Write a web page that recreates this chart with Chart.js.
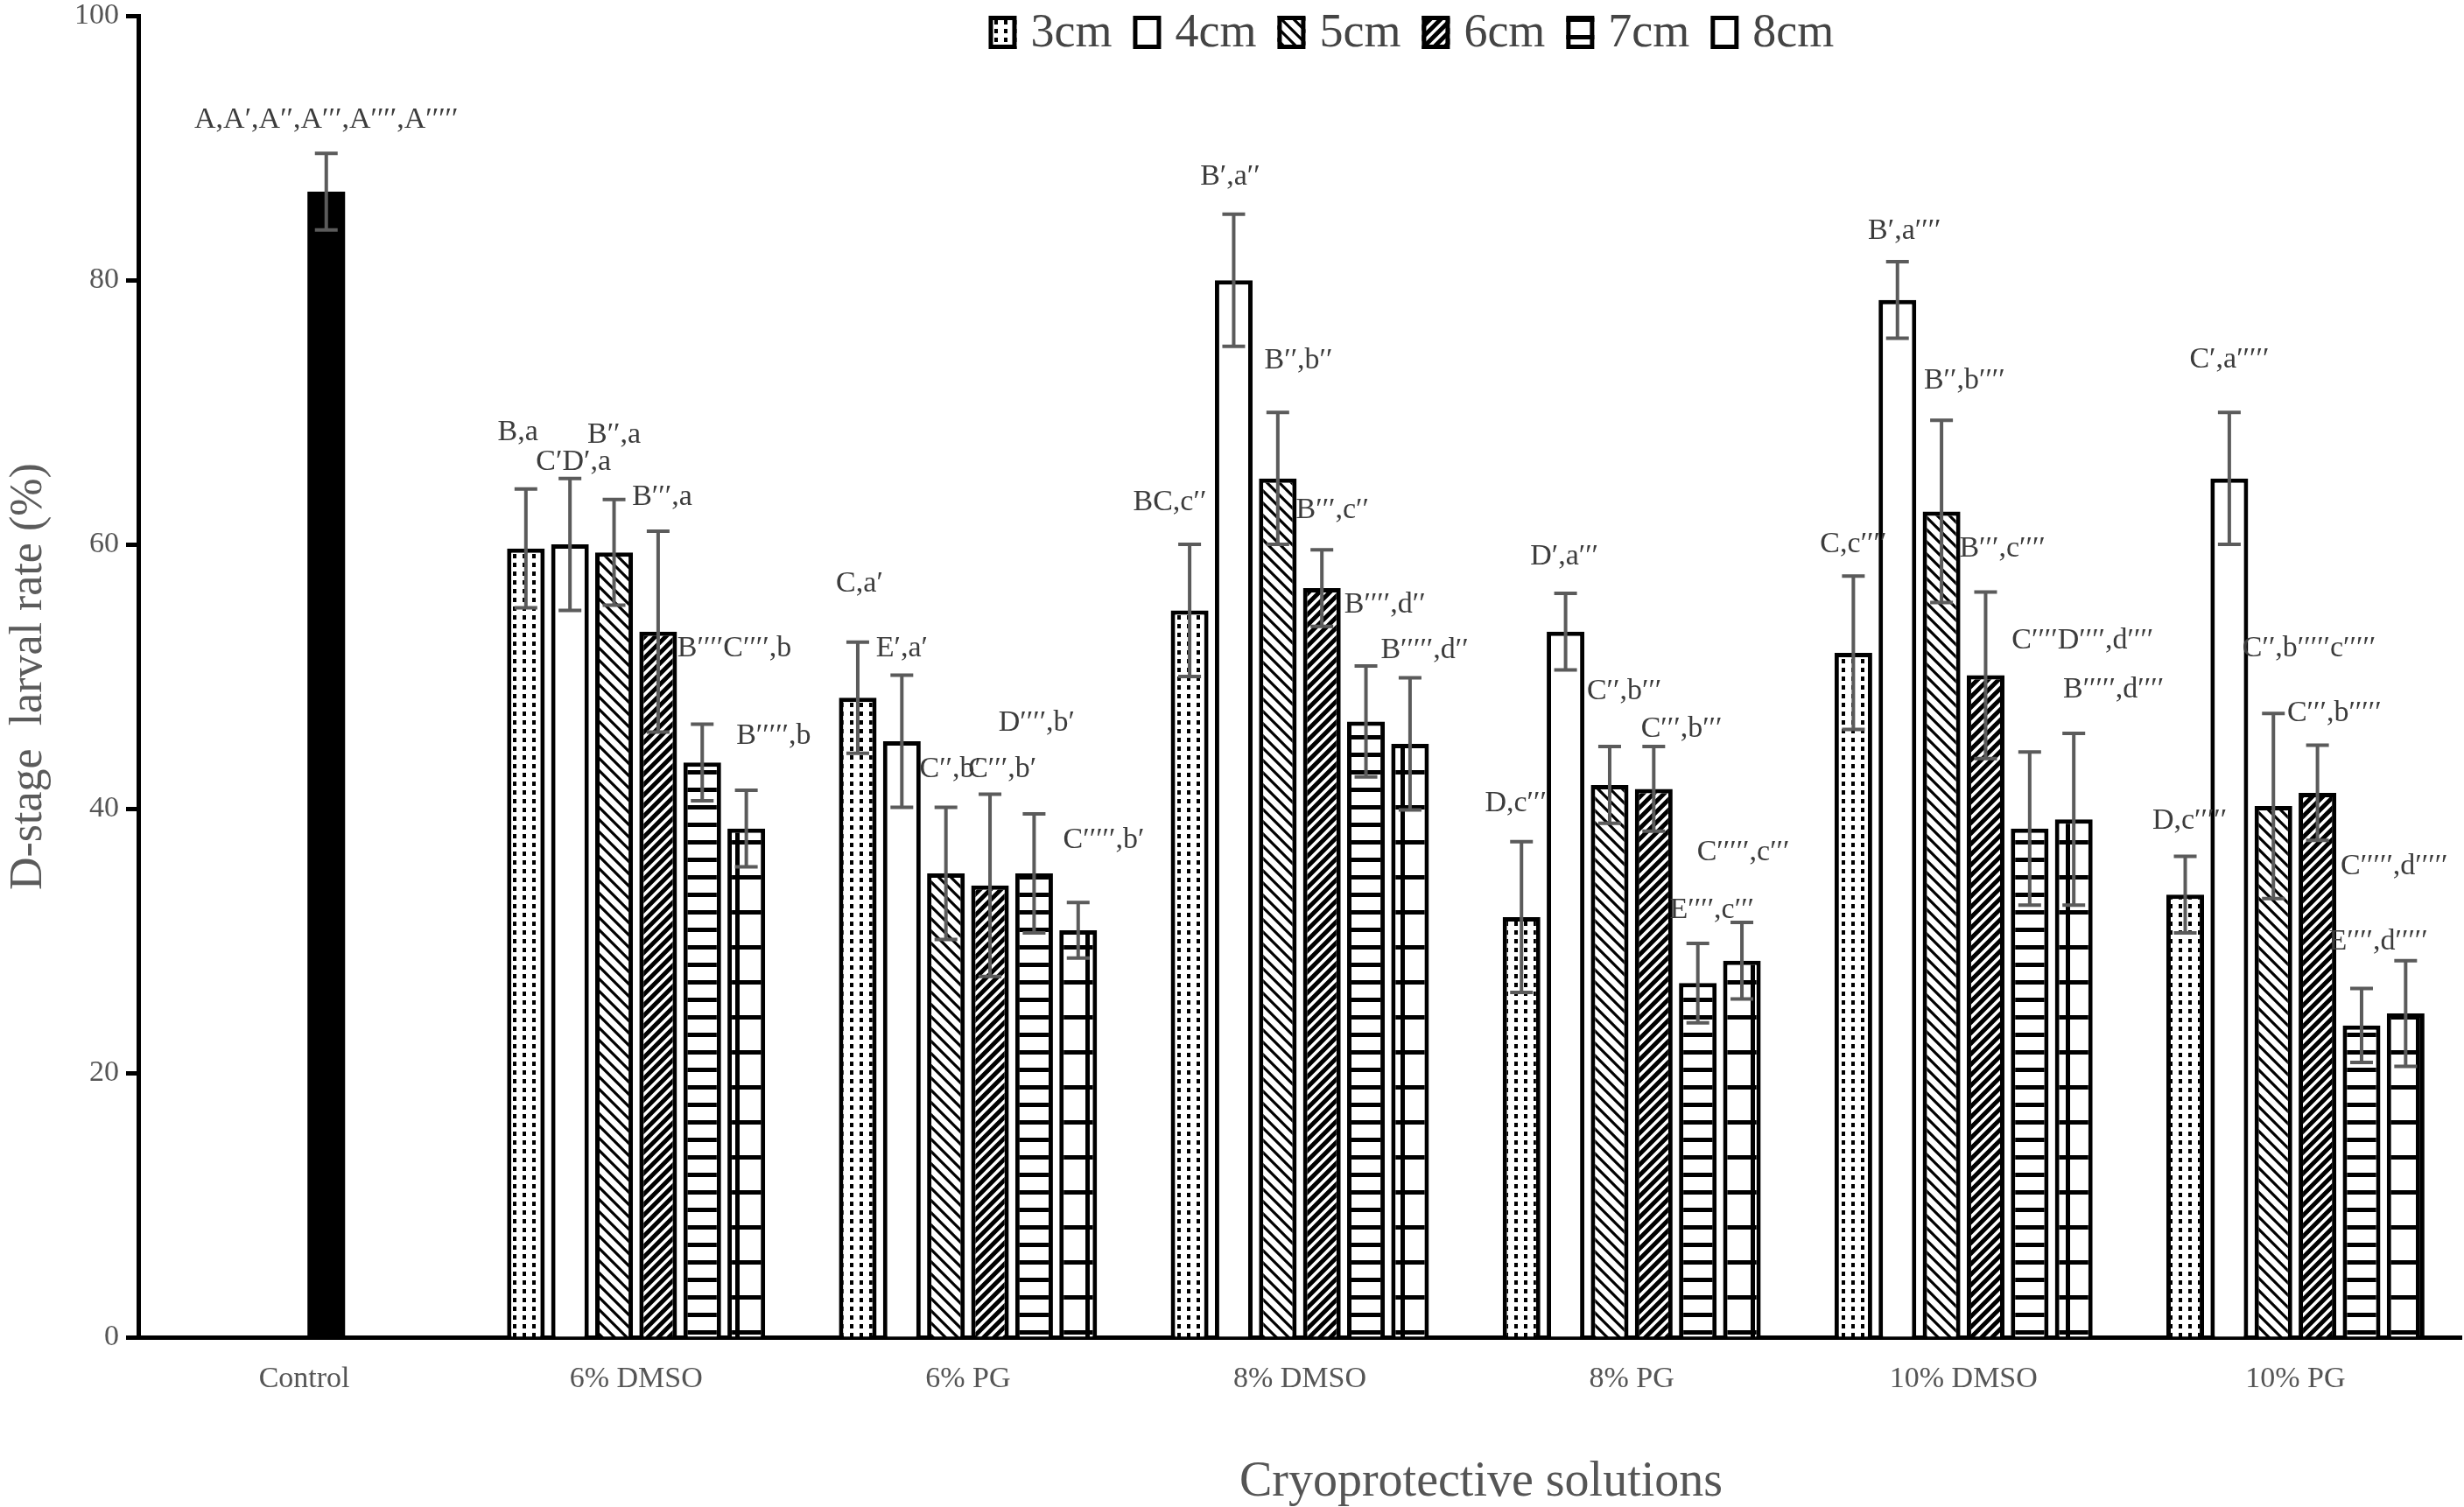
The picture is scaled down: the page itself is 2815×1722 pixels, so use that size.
<!DOCTYPE html>
<html>
<head>
<meta charset="utf-8">
<script src="https://cdn.jsdelivr.net/npm/chart.js@4.4.1/dist/chart.umd.min.js"></script>
<style>
  html, body { margin: 0; padding: 0; background: #fff; overflow: hidden; }
  canvas { display: block; }
</style>
</head>
<body>
<canvas id="chart" width="2815" height="1722"></canvas>
<script>
// categories and series
const categories = ['Control', '6% DMSO', '6% PG', '8% DMSO', '8% PG', '10% DMSO', '10% PG'];
const seriesNames = ['3cm', '4cm', '5cm', '6cm', '7cm', '8cm'];

// control (only one bar)
const controlValue = [86.7, null, null, null, null, null, null];
const controlError = [2.9, null, null, null, null, null, null];
const controlLetters = ['A,A′,A′′,A′′′,A′′′′,A′′′′′', '', '', '', '', '', ''];
const controlLabelY = [92.1, null, null, null, null, null, null];
const controlLabelDx = [0, 0, 0, 0, 0, 0, 0];

// mean values (%)
const cm3 = [null, 59.7, 48.4, 55.0, 31.8, 51.8, 33.5];
const cm4 = [null, 60.0, 45.1, 80.0, 53.4, 78.5, 65.0];
const cm5 = [null, 59.4, 35.1, 65.0, 41.8, 62.5, 40.2];
const cm6 = [null, 53.4, 34.2, 56.7, 41.5, 50.1, 41.2];
const cm7 = [null, 43.5, 35.1, 46.6, 26.8, 38.5, 23.6];
const cm8 = [null, 38.5, 30.8, 44.9, 28.5, 39.2, 24.5];

// error bars (+/-)
const err3 = [null, 4.5, 4.2, 5.0, 5.7, 5.8, 2.9];
const err4 = [null, 5.0, 5.0, 5.0, 2.9, 2.9, 5.0];
const err5 = [null, 4.0, 5.0, 5.0, 2.9, 6.9, 7.0];
const err6 = [null, 7.6, 6.9, 2.9, 3.2, 6.3, 3.6];
const err7 = [null, 2.9, 4.5, 4.2, 3.0, 5.8, 2.8];
const err8 = [null, 2.9, 2.1, 5.0, 2.9, 6.5, 4.0];

// significance letters
const let3 = ['', 'B,a', 'C,a′', 'BC,c′′', 'D,c′′′', 'C,c′′′′', 'D,c′′′′′'];
const let4 = ['', 'C′D′,a', 'E′,a′', 'B′,a′′', 'D′,a′′′', 'B′,a′′′′', 'C′,a′′′′′'];
const let5 = ['', 'B′′,a', 'C′′,b′', 'B′′,b′′', 'C′′,b′′′', 'B′′,b′′′′', 'C′′,b′′′′′c′′′′′'];
const let6 = ['', 'B′′′,a', 'C′′′,b′', 'B′′′,c′′', 'C′′′,b′′′', 'B′′′,c′′′′', 'C′′′,b′′′′′'];
const let7 = ['', 'B′′′′C′′′′,b', 'D′′′′,b′', 'B′′′′,d′′', 'E′′′′,c′′′', 'C′′′′D′′′′,d′′′′', 'E′′′′,d′′′′′'];
const let8 = ['', 'B′′′′′,b', 'C′′′′′,b′', 'B′′′′′,d′′', 'C′′′′′,c′′′', 'B′′′′′,d′′′′', 'C′′′′′,d′′′′′'];

// where each letter group sits (y in % units, x shift in bar slots)
const lab3Y = [null, 68.5, 57.0, 63.2, 40.4, 60.0, 39.1];
const lab4Y = [null, 66.2, 52.1, 87.8, 59.1, 83.7, 74.0];
const lab5Y = [null, 68.3, 43.0, 73.9, 48.9, 72.4, 52.1];
const lab6Y = [null, 63.6, 43.0, 62.6, 46.0, 59.7, 47.2];
const lab7Y = [null, 52.1, 46.5, 55.4, 32.3, 52.7, 29.9];
const lab8Y = [null, 45.5, 37.6, 52.0, 36.7, 49.0, 35.6];
const lab3Dx = [0, -0.18, 0.04, -0.45, -0.13, 0.0, 0.1];
const lab4Dx = [0, 0.08, 0.0, -0.08, -0.03, 0.16, 0.0];
const lab5Dx = [0, 0.0, 0.1, 0.47, 0.33, 0.52, 0.81];
const lab6Dx = [0, 0.09, 0.28, 0.24, 0.63, 0.38, 0.38];
const lab7Dx = [0, 0.73, 0.06, 0.43, 0.32, 1.2, 0.38];
const lab8Dx = [0, 0.62, 0.58, 0.33, 0.03, 0.9, -0.26];

const FONT = '"Liberation Serif", "Times New Roman", serif';
const CONTROL_SHIFT = 0.5; // control bar sits half a slot right of its tick

// hatch patterns
function makePattern(w, h, draw) {
  const c = document.createElement('canvas');
  c.width = w; c.height = h;
  const g = c.getContext('2d');
  g.fillStyle = '#fff';
  g.fillRect(0, 0, w, h);
  g.fillStyle = '#000';
  g.strokeStyle = '#000';
  draw(g);
  return document.getElementById('chart').getContext('2d').createPattern(c, 'repeat');
}

const patterns = [
  makePattern(11, 10, g => { g.fillRect(3, 3, 4, 5); }),
  '#fff',
  makePattern(14, 14, g => {
    g.lineWidth = 3.2;
    g.beginPath();
    g.moveTo(-3, -3); g.lineTo(17, 17);
    g.moveTo(-17, -3); g.lineTo(3, 17);
    g.moveTo(11, -3); g.lineTo(31, 17);
    g.stroke();
  }),
  makePattern(12, 12, g => {
    g.lineWidth = 5;
    g.beginPath();
    g.moveTo(-3, 15); g.lineTo(15, -3);
    g.moveTo(-15, 15); g.lineTo(3, -3);
    g.moveTo(9, 15); g.lineTo(27, -3);
    g.stroke();
  }),
  makePattern(20, 20, g => { g.fillRect(0, 0, 20, 5); }),
  makePattern(40, 40, g => { g.fillRect(0, 0, 40, 5); g.fillRect(0, 0, 5, 40); })
];
// legend swatches (the 8cm key shows as an empty box in the original)
const legendFills = [patterns[0], '#fff', patterns[2], patterns[3], patterns[4], '#fff'];

const values = [cm3, cm4, cm5, cm6, cm7, cm8];
const errors = [err3, err4, err5, err6, err7, err8];
const letters = [let3, let4, let5, let6, let7, let8];
const labelY = [lab3Y, lab4Y, lab5Y, lab6Y, lab7Y, lab8Y];
const labelDx = [lab3Dx, lab4Dx, lab5Dx, lab6Dx, lab7Dx, lab8Dx];

const allErrors = [controlError].concat(errors);
const allLetters = [controlLetters].concat(letters);
const allLabelY = [controlLabelY].concat(labelY);
const allLabelDx = [controlLabelDx].concat(labelDx);

const datasets = [{
  label: 'Control',
  data: controlValue,
  backgroundColor: '#000',
  borderColor: '#000',
  borderWidth: 0,
  maxBarThickness: 43
}].concat(values.map((v, k) => ({
  label: seriesNames[k],
  data: v,
  backgroundColor: patterns[k],
  borderColor: '#000',
  borderWidth: 5
})));

function slotPitch(chart) {
  return chart.getDatasetMeta(2).data[1].x - chart.getDatasetMeta(1).data[1].x;
}

// error bars, letters, legend and x title
const extras = {
  id: 'extras',
  beforeDatasetDraw(chart, args) {
    if (args.index === 0) {
      chart.ctx.save();
      chart.ctx.translate(slotPitch(chart) * CONTROL_SHIFT, 0);
    }
  },
  afterDatasetDraw(chart, args) {
    if (args.index === 0) chart.ctx.restore();
  },
  afterDatasetsDraw(chart) {
    const ctx = chart.ctx;
    const y = chart.scales.y;
    const pitch = slotPitch(chart);
    ctx.save();
    ctx.strokeStyle = '#5b5b5b';
    ctx.lineWidth = 4;
    chart.data.datasets.forEach((ds, d) => {
      const meta = chart.getDatasetMeta(d);
      const shift = d === 0 ? pitch * CONTROL_SHIFT : 0;
      ds.data.forEach((v, i) => {
        if (v === null) return;
        const x = meta.data[i].x + shift;
        const e = allErrors[d][i];
        const yt = y.getPixelForValue(v + e);
        const yb = y.getPixelForValue(v - e);
        ctx.beginPath();
        ctx.moveTo(x, yt); ctx.lineTo(x, yb);
        ctx.moveTo(x - 13, yt); ctx.lineTo(x + 13, yt);
        ctx.moveTo(x - 13, yb); ctx.lineTo(x + 13, yb);
        ctx.stroke();
      });
    });
    ctx.fillStyle = '#3c3c3c';
    ctx.font = '34px ' + FONT;
    ctx.textAlign = 'center';
    ctx.textBaseline = 'middle';
    chart.data.datasets.forEach((ds, d) => {
      const meta = chart.getDatasetMeta(d);
      const shift = d === 0 ? pitch * CONTROL_SHIFT : 0;
      ds.data.forEach((v, i) => {
        if (v === null || !allLetters[d][i]) return;
        const x = meta.data[i].x + shift + allLabelDx[d][i] * pitch;
        ctx.fillText(allLetters[d][i], x, y.getPixelForValue(allLabelY[d][i]));
      });
    });
    ctx.restore();
  },
  afterDraw(chart) {
    const ctx = chart.ctx;
    const area = chart.chartArea;
    ctx.save();
    // legend
    ctx.font = '54px ' + FONT;
    ctx.textBaseline = 'middle';
    ctx.textAlign = 'left';
    const boxW = 32, boxH = 38, gap = 16, space = 24;
    const widths = seriesNames.map(n => boxW + gap + ctx.measureText(n).width);
    const total = widths.reduce((a, b) => a + b, 0) + space * (seriesNames.length - 1);
    let lx = area.left + area.width * 0.548 - total / 2;
    const ly = 37;
    seriesNames.forEach((n, k) => {
      ctx.fillStyle = legendFills[k];
      ctx.fillRect(lx, ly - boxH / 2, boxW, boxH);
      ctx.strokeStyle = '#000';
      ctx.lineWidth = 5;
      ctx.strokeRect(lx + 2.5, ly - boxH / 2 + 2.5, boxW - 5, boxH - 5);
      ctx.fillStyle = '#444';
      ctx.fillText(n, lx + boxW + gap, ly + 2);
      lx += widths[k] + space;
    });
    // x axis title
    ctx.fillStyle = '#555';
    ctx.font = '56px ' + FONT;
    ctx.textAlign = 'center';
    ctx.fillText('Cryoprotective solutions', area.left + area.width * 0.578, 1694);
    ctx.restore();
  }
};

new Chart(document.getElementById('chart'), {
  type: 'bar',
  data: { labels: categories, datasets: datasets },
  options: {
    responsive: false,
    devicePixelRatio: 1,
    animation: false,
    layout: { padding: { top: 18, right: 3, left: 0, bottom: 0 } },
    datasets: {
      bar: {
        skipNull: true,
        categoryPercentage: 0.797,
        barPercentage: 0.855,
        borderSkipped: 'start'
      }
    },
    plugins: {
      legend: { display: false },
      tooltip: { enabled: false }
    },
    scales: {
      x: {
        grid: { display: false },
        border: { display: true, color: '#000', width: 5 },
        ticks: { color: '#555', font: { family: FONT, size: 34 }, padding: 20 },
        afterFit(scale) { scale.height = 194; }
      },
      y: {
        min: 0,
        max: 100,
        ticks: { stepSize: 20, color: '#555', font: { family: FONT, size: 34, lineHeight: 0.6 }, padding: 8 },
        grid: { display: true, drawOnChartArea: false, drawTicks: true, tickLength: 14, tickWidth: 5, color: '#000' },
        border: { display: true, color: '#000', width: 5 },
        title: {
          display: true,
          text: 'D-stage  larval rate (%)',
          color: '#5b5b5b',
          font: { family: FONT, size: 52 },
          padding: { top: 2, bottom: 0 }
        },
        afterFit(scale) { scale.width = 158; }
      }
    }
  },
  plugins: [extras]
});
</script>
</body>
</html>
